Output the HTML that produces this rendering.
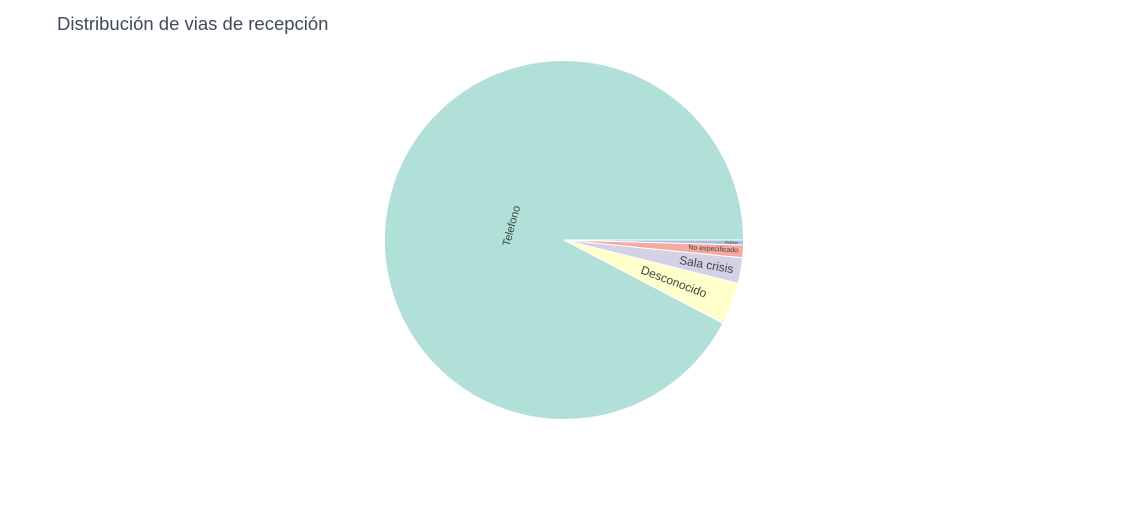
<!DOCTYPE html>
<html><head><meta charset="utf-8"><style>
body{margin:0;background:#fff;width:1128px;height:500px;overflow:hidden;font-family:"Liberation Sans",sans-serif}
</style></head><body>
<svg width="1128" height="500">
<text x="57" y="30" font-size="18.5" fill="#3f4a5a">Distribución de vias de recepción</text>
<g id="pie"></g>
</svg>
<script>
const labels=["Telefono","Desconocido","Sala crisis","No especificado","Rubina"];
const values=[92.3,3.8,2.3,1.14,0.44];
const colors=["#b0e0d8","#ffffcc","#d4d1e5","#f7a9a0","#a6c2d8"];
const fontSizes=[11,12,12,7,4];
const cx=564,cy=240,r=179.5;
const g=document.getElementById('pie');
const ns="http://www.w3.org/2000/svg";
const total=values.reduce((a,b)=>a+b,0);
let a0=0;
values.forEach((v,i)=>{
  const a1=a0+v/total*2*Math.PI;
  const p=(a)=>[cx+r*Math.cos(a),cy-r*Math.sin(a)];
  const [x0,y0]=p(a0),[x1,y1]=p(a1);
  const large=(a1-a0)>Math.PI?1:0;
  const path=document.createElementNS(ns,'path');
  path.setAttribute('d',`M${cx},${cy}L${x0},${y0}A${r},${r} 0 ${large} 0 ${x1},${y1}Z`);
  path.setAttribute('fill',colors[i]);
  path.setAttribute('stroke','#fff');
  path.setAttribute('stroke-width','1');
  
  
  g.appendChild(path);
  const t=document.createElementNS(ns,'text');
  let tx,ty,rot;
  if(i===0){tx=cx-52;ty=cy-14;rot=-75;}
  else{
    const am=(a0+a1)/2;
    const rr=r-(i===1?62:i===2?35:i===3?30:12);
    tx=cx+rr*Math.cos(am);ty=cy-rr*Math.sin(am);
    rot=-am*180/Math.PI+360;
  }
  t.setAttribute('x',tx);t.setAttribute('y',ty);
  t.setAttribute('transform',`rotate(${rot} ${tx} ${ty})`);
  t.setAttribute('text-anchor','middle');
  t.setAttribute('dominant-baseline','central');
  t.setAttribute('font-size',fontSizes[i]);
  t.setAttribute('fill','#444');
  t.textContent=labels[i];
  
  
  g.appendChild(t);
  a0=a1;
});
</script>
</body></html>
